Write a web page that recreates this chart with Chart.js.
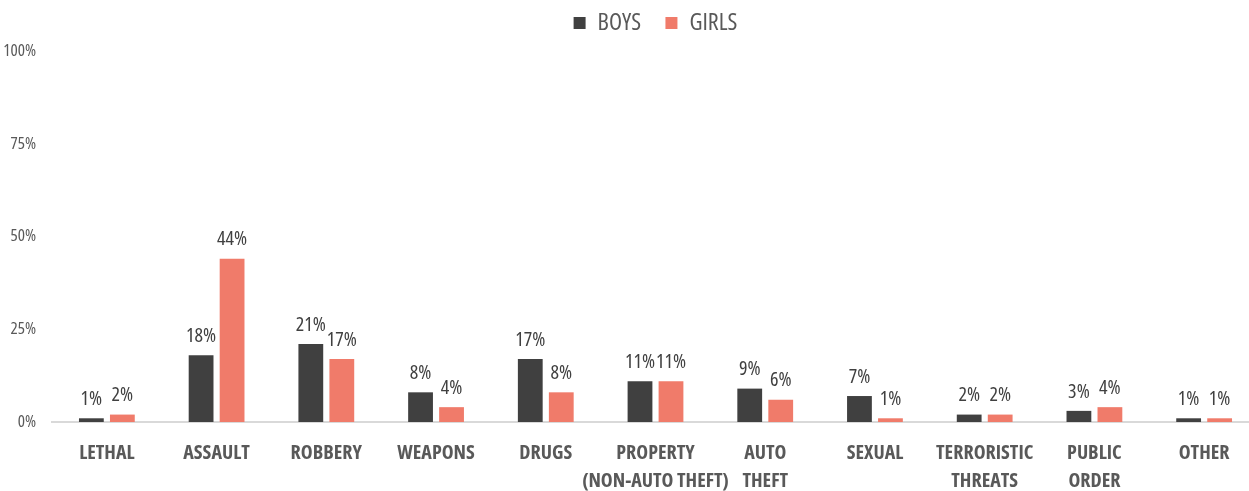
<!DOCTYPE html>
<html>
<head>
<meta charset="utf-8">
<script src="https://cdn.jsdelivr.net/npm/chart.js@4"></script>
<style>
  html, body { margin: 0; padding: 0; background: #fff; overflow: hidden; }
  /* the plot runs a little past the right edge in the original, so the canvas is wider than the page */
  #wrap { width: 1249px; height: 491px; overflow: hidden; }
</style>
</head>
<body>
<div id="wrap"><canvas id="chart" width="1259" height="491"></canvas></div>
<script>
// --- DATA ---
const categories = [
    'LETHAL', 'ASSAULT', 'ROBBERY', 'WEAPONS', 'DRUGS',
    ['PROPERTY', '(NON-AUTO THEFT)'], ['AUTO', 'THEFT'], 'SEXUAL',
    ['TERRORISTIC', 'THREATS'], ['PUBLIC', 'ORDER'], 'OTHER'
];
const boys  = [1, 18, 21, 8, 17, 11, 9, 7, 2, 3, 1];
const girls = [2, 44, 17, 4, 8, 11, 6, 1, 2, 4, 1];
const yTicks = [0, 25, 50, 75, 100];

// condensed Open Sans (font-stretch goes in through the weight string)
const FONT = "'Open Sans', 'Roboto Condensed', sans-serif";
const textColor = '#595959';

// value labels above the bars
const barLabels = {
    id: 'barLabels',
    afterDatasetsDraw(chart) {
        const ctx = chart.ctx;
        ctx.save();
        ctx.font = "condensed 20px " + FONT;
        ctx.fillStyle = '#404040';
        ctx.textAlign = 'center';
        ctx.textBaseline = 'bottom';
        chart.data.datasets.forEach((ds, i) => {
            chart.getDatasetMeta(i).data.forEach((bar, j) => {
                ctx.fillText(ds.data[j] + '%', bar.x, bar.y - 9);
            });
        });
        ctx.restore();
    }
};

// give the legend a bit more room underneath
const legendRoom = {
    id: 'legendRoom',
    beforeInit(chart) {
        const fit = chart.legend.fit;
        chart.legend.fit = function () {
            fit.bind(chart.legend)();
            this.height += 6;
        };
    }
};

new Chart(document.getElementById('chart'), {
    type: 'bar',
    data: {
        labels: categories,
        datasets: [
            { label: 'BOYS', data: boys, backgroundColor: '#404040' },
            { label: 'GIRLS', data: girls, backgroundColor: '#f07b6a' }
        ]
    },
    options: {
        responsive: false,
        animation: false,
        layout: { padding: 0 },
        datasets: { bar: { categoryPercentage: 0.565, barPercentage: 0.8 } },
        plugins: {
            legend: {
                position: 'top',
                fullSize: false,
                labels: {
                    boxWidth: 12, boxHeight: 12, padding: 11,
                    color: textColor,
                    font: { family: FONT, size: 24, weight: 'condensed' },
                    generateLabels(chart) {
                        const items = Chart.defaults.plugins.legend.labels.generateLabels(chart);
                        items[0].text = 'BOYS   ';
                        items.forEach(it => { it.fontColor = textColor; it.lineWidth = 0; });
                        return items;
                    }
                }
            },
            tooltip: { enabled: false }
        },
        scales: {
            x: {
                grid: { display: false },
                border: { color: '#d9d9d9', width: 2 },
                afterFit: (axis) => { axis.height = 69; },
                ticks: {
                    color: textColor, padding: 9,
                    maxRotation: 0, autoSkip: false,
                    font: { family: FONT, size: 20, weight: 'condensed bold', lineHeight: 1.4 }
                }
            },
            y: {
                min: 0, max: 100,
                afterBuildTicks: (axis) => { axis.ticks = yTicks.map(v => ({ value: v })); },
                grid: { display: false, drawTicks: false },
                border: { display: false },
                afterFit: (axis) => { axis.width = 52; },
                ticks: {
                    color: textColor, padding: 16,
                    font: { family: FONT, size: 17, weight: 'condensed' },
                    callback: (v) => v + '%'
                }
            }
        }
    },
    plugins: [barLabels, legendRoom]
});
</script>
</body>
</html>
